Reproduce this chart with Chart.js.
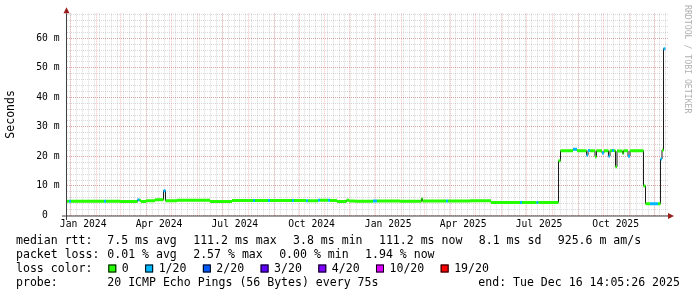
<!DOCTYPE html>
<html>
<head>
<meta charset="utf-8">
<script src="https://cdn.jsdelivr.net/npm/chart.js@4.4.1/dist/chart.umd.min.js"></script>
<style>
  html, body { margin: 0; padding: 0; background: #fff; }
  #c { display: block; }
</style>
</head>
<body>
<canvas id="c" width="697" height="297"></canvas>
<script>
// days counted from 1 Jan 2024, median rtt in ms, loss as index into lossColors
const stepDays = [-4.4, -2.0, 0.4, 40.0, 42.4, 59.2, 80.2, 82.6, 84.4, 90.4,
  101.2, 111.4, 113.8, 127.6, 167.2, 193.6, 218.8, 221.2, 236.8, 239.2,
  265.6, 268.0, 282.4, 284.8, 296.8, 299.2, 308.8, 311.2, 319.6, 331.0,
  334.0, 341.2, 362.8, 367.6, 395.2, 421.0, 422.2, 450.4, 452.8, 479.2,
  504.4, 539.2, 541.6, 559.0, 561.4, 585.4, 587.8, 602.8, 607.6, 619.0,
  620.8, 623.2, 629.2, 631.0, 637.6, 640.0, 645.4, 647.2, 649.6, 652.0,
  653.8, 655.6, 662.2, 663.4, 668.8, 671.2, 687.4, 689.8, 695.2, 704.8,
  707.8, 709.6, 711.4];
const medianRtt = [4.8, 4.8, 4.8, 4.8, 4.8, 4.7, 5.3, 5.1, 4.7, 5.0,
  5.3, 8.4, 5.0, 5.2, 4.7, 5.1, 5.1, 5.1, 5.1, 5.1,
  5.1, 5.1, 5.0, 5.0, 5.2, 5.2, 5.2, 5.1, 4.7, 5.2,
  4.9, 4.8, 4.9, 4.9, 4.8, 5.7, 4.9, 4.9, 4.9, 5.0,
  4.4, 4.4, 4.4, 4.4, 4.4, 18.5, 21.9, 22.4, 21.9, 20.4,
  22.0, 21.9, 19.9, 21.9, 21.2, 21.9, 20.1, 21.9, 22.0, 21.9,
  16.5, 21.8, 21.0, 21.9, 20.1, 21.9, 10.0, 4.0, 4.0, 4.0,
  19.1, 22.1, 56.5];
const lossIdx = [0, 1, 0, 1, 0, 0, 1, 0, 0, 0,
  0, 1, 0, 0, 0, 0, 1, 0, 1, 0,
  1, 0, 1, 0, 1, 0, 1, 0, 0, 0,
  0, 0, 1, 0, 0, 0, 0, 1, 0, 0,
  0, 1, 0, 1, 0, 0, 0, 1, 0, 1,
  1, 0, 0, 0, 1, 0, 1, 0, 1, 0,
  0, 0, 0, 0, 1, 0, 0, 0, 1, 0,
  1, 0, 1];
const dataEnd = 713.6;

const lossColors = ['#26ff00', '#00b8ff', '#0059ff', '#5e00ff', '#7e00ff', '#dd00ff', '#ff0000'];
const lossLabels = ['0', '1/20', '2/20', '3/20', '4/20', '10/20', '19/20'];

const xLabelDays = [15, 106, 197, 289, 381, 471, 562, 654];
const xLabels = ['Jan 2024', 'Apr 2024', 'Jul 2024', 'Oct 2024', 'Jan 2025', 'Apr 2025', 'Jul 2025', 'Oct 2025'];
const monthStarts = [0, 31, 60, 91, 121, 152, 182, 213, 244, 274, 305, 335,
  366, 397, 425, 456, 486, 517, 547, 578, 609, 639, 670, 700];
const yTicks = [0, 10, 20, 30, 40, 50, 60];
const yLabels = ['0  ', '10 m', '20 m', '30 m', '40 m', '50 m', '60 m'];

const rttLegend = ['7.5 ms avg', '111.2 ms max', '3.8 ms min', '111.2 ms now', '8.1 ms sd', '925.6 m am/s'];
const lossLegend = ['0.01 % avg', '2.57 % max', '0.00 % min', '1.94 % now'];
const probeText = '20 ICMP Echo Pings (56 Bytes) every 75s';
const endText = 'end: Tue Dec 16 14:05:26 2025';

const X_MIN = -4.41, X_MAX = 716.79;
const Y_MAX = 68.46;
const mono = 'DejaVu Sans Mono';

// weekly minor grid, monthly major grid, 2 ms / 10 ms horizontal grid
const weekDays = [];
for (let d = 0; d <= X_MAX; d += 7) weekDays.push(d);
const yMinor = [];
for (let v = 2; v <= Y_MAX; v += 2) yMinor.push(v);

// thin dark median line, stepped
const linePts = stepDays.map((d, i) => ({ x: d, y: medianRtt[i] }));
linePts.push({ x: dataEnd, y: medianRtt[medianRtt.length - 1] });

// loss coloured bars around the median, one horizontal piece per step
const bandPts = [];
stepDays.forEach((d, i) => {
  const x1 = i + 1 < stepDays.length ? stepDays[i + 1] : dataEnd;
  bandPts.push({ x: d, y: medianRtt[i] }, { x: x1, y: medianRtt[i] }, { x: x1, y: null });
});

const minorGrid = 'rgba(128,128,128,0.3)';
const majorGrid = 'rgba(230,60,60,0.32)';

function gridScale(axis, ticks, color) {
  return {
    type: 'linear',
    axis: axis,
    position: axis === 'x' ? 'bottom' : 'left',
    min: axis === 'x' ? X_MIN : 0,
    max: axis === 'x' ? X_MAX : Y_MAX,
    afterBuildTicks: s => { s.ticks = ticks.map(v => ({ value: v })); },
    afterFit: s => { if (axis === 'x') s.height = 0; else s.width = 0; },
    ticks: { display: false },
    grid: { color: color, lineWidth: 1, drawTicks: false },
    border: { display: false, dash: [1, 1] }
  };
}

const rrdDecor = {
  id: 'rrdDecor',
  afterDatasetsDraw(chart) {
    const ctx = chart.ctx;
    const a = chart.chartArea;
    ctx.save();
    // axes
    ctx.strokeStyle = '#404040';
    ctx.lineWidth = 1;
    ctx.beginPath();
    ctx.moveTo(a.left - 0.5, a.bottom + 4.5);
    ctx.lineTo(a.left - 0.5, a.top);
    ctx.moveTo(a.left - 5, a.bottom + 0.5);
    ctx.lineTo(a.right, a.bottom + 0.5);
    ctx.stroke();
    ctx.fillStyle = '#9a2020';
    ctx.beginPath();
    ctx.moveTo(a.left - 0.5, a.top - 6);
    ctx.lineTo(a.left - 3.5, a.top);
    ctx.lineTo(a.left + 2.5, a.top);
    ctx.closePath();
    ctx.fill();
    ctx.beginPath();
    ctx.moveTo(a.right + 6, a.bottom + 0.5);
    ctx.lineTo(a.right, a.bottom - 2.5);
    ctx.lineTo(a.right, a.bottom + 3.5);
    ctx.closePath();
    ctx.fill();
    ctx.restore();
  },
  afterDraw(chart) {
    const ctx = chart.ctx;
    ctx.save();
    // watermark
    ctx.save();
    ctx.translate(687, 5);
    ctx.rotate(Math.PI / 2);
    ctx.font = '8.2px "' + mono + '"';
    ctx.fillStyle = '#b0b0b0';
    ctx.textBaseline = 'middle';
    ctx.fillText('RRDTOOL / TOBI OETIKER', 0, 0);
    ctx.restore();

    ctx.font = '11.56px "' + mono + '"';
    ctx.fillStyle = '#000';
    ctx.textBaseline = 'middle';
    const col0 = 16, col1 = 107.3, gap = 16.4;
    const rows = [241, 255, 268.5, 282.5];

    function rowItems(y, label, items) {
      ctx.fillText(label, col0, y);
      let x = col1;
      items.forEach(t => {
        ctx.fillText(t, x, y);
        x += ctx.measureText(t).width + gap;
      });
    }
    rowItems(rows[0], 'median rtt:', rttLegend);
    rowItems(rows[1], 'packet loss:', lossLegend);

    ctx.fillText('loss color:', col0, rows[2]);
    let x = 108.3;
    lossLabels.forEach((t, i) => {
      ctx.fillStyle = lossColors[i];
      ctx.fillRect(x, rows[2] - 4, 8, 8);
      ctx.strokeStyle = '#000';
      ctx.lineWidth = 1;
      ctx.strokeRect(x + 0.5, rows[2] - 3.5, 7, 7);
      ctx.fillStyle = '#000';
      ctx.fillText(t, x + 13.5, rows[2]);
      x += 13.5 + ctx.measureText(t).width + gap;
    });

    ctx.fillText('probe:', col0, rows[3]);
    ctx.fillText(probeText, col1, rows[3]);
    ctx.fillText(endText, 478.3, rows[3]);
    ctx.restore();
  }
};

new Chart(document.getElementById('c'), {
  type: 'line',
  data: {
    datasets: [
      {
        data: bandPts,
        borderWidth: 3,
        borderCapStyle: 'butt',
        pointRadius: 0,
        spanGaps: false,
        segment: {
          borderColor: c => lossColors[lossIdx[Math.floor(c.p0DataIndex / 3)]]
        },
        borderColor: lossColors[0]
      },
      {
        data: linePts,
        stepped: true,
        borderWidth: 1,
        borderColor: '#1c1c1c',
        pointRadius: 0
      }
    ]
  },
  options: {
    responsive: false,
    devicePixelRatio: 1,
    animation: false,
    events: [],
    layout: { padding: { top: 13, right: 29, left: 0, bottom: 0 } },
    plugins: { legend: { display: false }, tooltip: { enabled: false } },
    scales: {
      x: {
        type: 'linear',
        position: 'bottom',
        min: X_MIN,
        max: X_MAX,
        afterBuildTicks: s => { s.ticks = xLabelDays.map(v => ({ value: v })); },
        afterFit: s => { s.height = 81.5; },
        grid: { display: false, drawTicks: false },
        border: { display: false },
        ticks: {
          autoSkip: false,
          maxRotation: 0,
          padding: 3,
          color: '#000',
          font: { family: mono, size: 9.7 },
          callback: (v, i) => xLabels[i]
        }
      },
      xMinor: gridScale('x', weekDays, minorGrid),
      xMajor: gridScale('x', monthStarts, majorGrid),
      y: {
        type: 'linear',
        position: 'left',
        min: 0,
        max: Y_MAX,
        afterBuildTicks: s => { s.ticks = yTicks.map(v => ({ value: v })); },
        afterFit: s => { s.width = 67; },
        grid: { display: false, drawTicks: false },
        border: { display: false },
        ticks: {
          padding: 7.5,
          color: '#000',
          font: { family: mono, size: 9.7 },
          callback: (v, i) => yLabels[i]
        },
        title: {
          display: true,
          text: 'Seconds',
          color: '#000',
          font: { family: mono, size: 11.5 },
          padding: { top: 4, bottom: 0 }
        }
      },
      yMinor: gridScale('y', yMinor, minorGrid),
      yMajor: gridScale('y', yTicks, majorGrid)
    }
  },
  plugins: [rrdDecor]
});
</script>
</body>
</html>
